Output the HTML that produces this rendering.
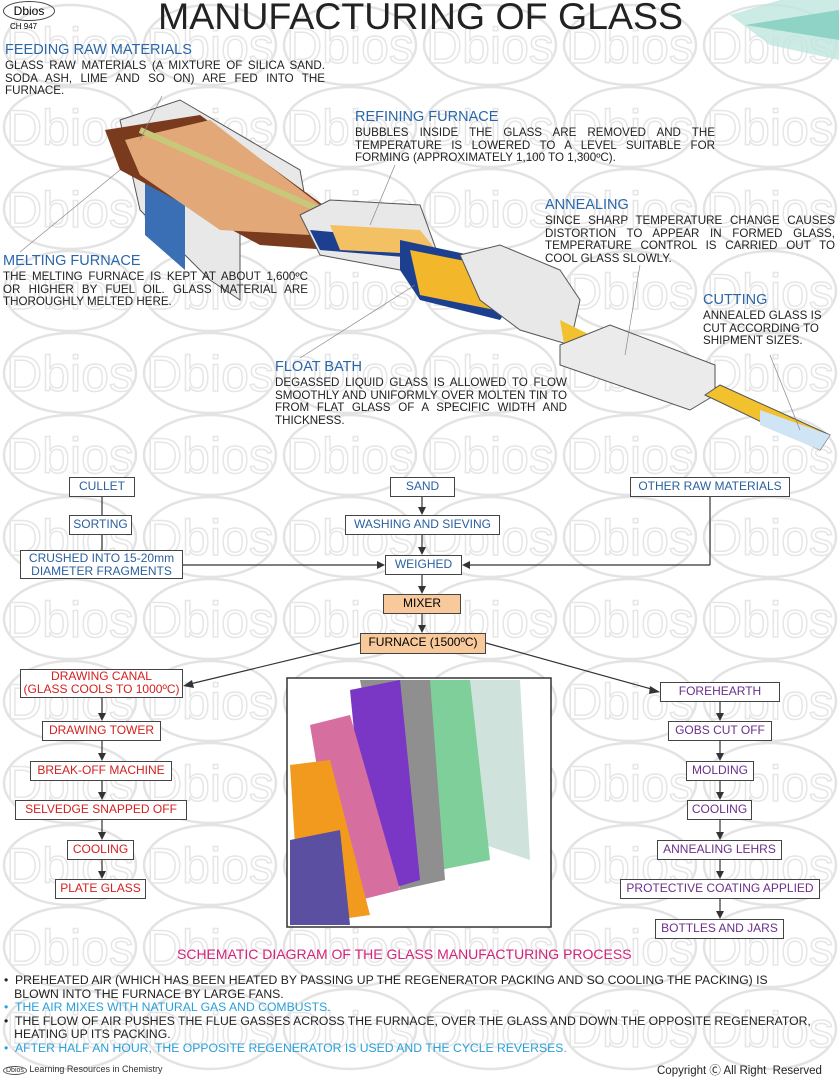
<!DOCTYPE html>
<html><head><meta charset="utf-8"><style>
body{margin:0;width:839px;height:1079px;position:relative;background:#fff;font-family:"Liberation Sans",sans-serif;overflow:hidden}
.a{position:absolute}
.h{color:#2a66a8;font-size:14.5px}
.t{font-size:11.6px;color:#222;text-align:justify;line-height:12.5px}
.b{position:absolute;border:1.5px solid #444;background:#fff;font-size:12px;text-align:center;box-sizing:border-box;line-height:17px;white-space:nowrap}
.bl{color:#2a5f9e}.rd{color:#d42020}.pu{color:#6a2f8a}
.or{background:#f8c99a}
</style></head><body>
<svg class="a" style="left:0;top:0" width="839" height="1079" id="w2"></svg>
<script>
var s='';
for(var r=0;r<13;r++){var y=45+r*82;for(var c=0;c<7;c++){var x=70+c*140;
s+='<ellipse cx="'+x+'" cy="'+y+'" rx="66" ry="40" fill="none" stroke="#e3e3e3" stroke-width="2.5"/>';
s+='<text x="'+x+'" y="'+(y+18)+'" text-anchor="middle" font-family="Liberation Sans" font-size="50" fill="none" stroke="#e6e6e6" stroke-width="1.5">Dbios</text>';}}
document.getElementById('w2').innerHTML=s;
</script>
<svg class="a" style="left:0;top:0" width="839" height="1079">
<polygon points="730,15 780,0 839,0 839,60 770,45" fill="#bfe6df" opacity=".8"/>
<polygon points="745,25 839,10 839,40" fill="#8fd3c7"/>
<!-- melting furnace -->
<polygon points="120,120 180,100 300,170 310,225 240,210 240,300 210,280 140,210" fill="#e8e8e8" stroke="#555"/>
<polygon points="145,170 185,190 185,270 145,235" fill="#3a6fb5"/>
<polygon points="105,130 200,115 330,210 330,250 260,245 120,170" fill="#7a3a1e"/>
<polygon points="125,140 210,120 320,205 310,235 220,230 140,175" fill="#e2a877"/>
<line x1="140" y1="130" x2="320" y2="210" stroke="#c8c87a" stroke-width="6"/>
<polygon points="300,215 330,200 420,205 440,260 400,270 320,255" fill="#e8e8e8" stroke="#555"/>
<polygon points="310,230 420,240 440,260 320,250" fill="#1c3f8f"/>
<polygon points="330,225 420,230 440,255 340,250" fill="#f3c063"/>
<polygon points="400,240 470,255 520,290 500,320 420,300 400,270" fill="#1c3f8f"/>
<polygon points="410,250 470,262 515,290 495,310 420,295" fill="#f2b72a"/>
<polygon points="460,255 500,245 560,270 580,300 570,345 520,330 480,300" fill="#e8e8e8" stroke="#555"/>
<polygon points="560,320 620,350 620,380 565,350" fill="#f2c12e"/>
<polygon points="560,345 610,325 715,365 715,395 690,410 560,365" fill="#ebebeb" stroke="#555"/>
<polygon points="705,395 720,385 830,435 820,450" fill="#f2c12e" stroke="#555"/>
<polygon points="760,410 830,435 820,450 760,425" fill="#cfe4f5"/>
<g stroke="#888" stroke-width=".7" fill="none">
<line x1="162" y1="96" x2="140" y2="140"/><line x1="20" y1="252" x2="120" y2="170"/>
<line x1="395" y1="165" x2="370" y2="225"/><line x1="300" y1="358" x2="415" y2="285"/>
<line x1="640" y1="265" x2="625" y2="355"/><line x1="770" y1="355" x2="800" y2="430"/>
</g>
<g stroke="#333" stroke-width="1.2" fill="none">
<line x1="102" y1="497" x2="102" y2="515"/><line x1="102" y1="535" x2="102" y2="550"/>
<line x1="183" y1="565" x2="380" y2="565"/>
<line x1="422" y1="497" x2="422" y2="510"/><line x1="422" y1="535" x2="422" y2="550"/>
<line x1="710" y1="497" x2="710" y2="565"/><line x1="710" y1="565" x2="467" y2="565"/>
<line x1="422" y1="575" x2="422" y2="589"/><line x1="422" y1="614" x2="422" y2="628"/>
<line x1="360" y1="643" x2="190" y2="684"/><line x1="486" y1="643" x2="655" y2="690"/>
<line x1="102" y1="697" x2="102" y2="716"/><line x1="102" y1="741" x2="102" y2="756"/><line x1="102" y1="781" x2="102" y2="795"/><line x1="102" y1="820" x2="102" y2="835"/><line x1="102" y1="860" x2="102" y2="874"/>
<line x1="720" y1="702" x2="720" y2="716"/><line x1="720" y1="741" x2="720" y2="756"/><line x1="720" y1="781" x2="720" y2="795"/><line x1="720" y1="820" x2="720" y2="835"/><line x1="720" y1="860" x2="720" y2="874"/><line x1="720" y1="899" x2="720" y2="914"/>
</g>
<g fill="#333">
<polygon points="385,565 377,561 377,569"/><polygon points="462,565 470,561 470,569"/>
<polygon points="422,515 418,507 426,507"/><polygon points="422,555 418,547 426,547"/><polygon points="422,594 418,586 426,586"/><polygon points="422,633 418,625 426,625"/>
<polygon points="183,686 192,680 194,688"/><polygon points="660,692 650,686 649,694"/>
<polygon points="102,721 98,713 106,713"/><polygon points="102,761 98,753 106,753"/><polygon points="102,800 98,792 106,792"/><polygon points="102,840 98,832 106,832"/><polygon points="102,879 98,871 106,871"/>
<polygon points="720,721 716,713 724,713"/><polygon points="720,761 716,753 724,753"/><polygon points="720,800 716,792 724,792"/><polygon points="720,840 716,832 724,832"/><polygon points="720,879 716,871 724,871"/><polygon points="720,919 716,911 724,911"/>
</g>
<rect x="287" y="678" width="264" height="249" fill="#fff" stroke="#333" stroke-width="1.5"/>
<polygon points="455,680 520,680 530,860 470,840" fill="#cfe3dc"/>
<polygon points="420,680 470,680 490,860 440,870" fill="#7fcf9a"/>
<polygon points="360,680 430,680 445,880 400,890" fill="#8f8f8f"/>
<polygon points="350,690 400,680 420,880 370,895" fill="#7a36c4"/>
<polygon points="310,725 350,715 400,890 340,905" fill="#d66ea0"/>
<polygon points="290,765 330,760 370,915 300,925" fill="#f19a1d"/>
<polygon points="290,840 340,830 350,925 290,925" fill="#5a4fa0"/>
</svg>

<div class="a" style="left:3px;top:1px;width:50px;height:18px;border:1.5px solid #444;border-radius:50%;font-size:12px;text-align:center;line-height:18px">Dbios</div>
<div class="a" style="left:10px;top:22px;font-size:8px">CH 947</div>
<div class="a" style="left:158px;top:-5px;font-size:37.5px;color:#222">MANUFACTURING OF GLASS</div>

<div class="a h" style="left:5px;top:42px">FEEDING RAW MATERIALS</div>
<div class="a t" style="left:5px;top:60px;width:320px">GLASS RAW MATERIALS (A MIXTURE OF SILICA SAND. SODA ASH, LIME AND SO ON) ARE FED INTO THE FURNACE.</div>
<div class="a h" style="left:355px;top:109px">REFINING FURNACE</div>
<div class="a t" style="left:355px;top:127px;width:360px">BUBBLES INSIDE THE GLASS ARE REMOVED AND THE TEMPERATURE IS LOWERED TO A LEVEL SUITABLE FOR FORMING (APPROXIMATELY 1,100 TO 1,300ºC).</div>
<div class="a h" style="left:545px;top:197px">ANNEALING</div>
<div class="a t" style="left:545px;top:215px;width:290px">SINCE SHARP TEMPERATURE CHANGE CAUSES DISTORTION TO APPEAR IN FORMED GLASS, TEMPERATURE CONTROL IS CARRIED OUT TO COOL GLASS SLOWLY.</div>
<div class="a h" style="left:3px;top:253px">MELTING FURNACE</div>
<div class="a t" style="left:3px;top:271px;width:305px">THE MELTING FURNACE IS KEPT AT ABOUT 1,600ºC OR HIGHER BY FUEL OIL. GLASS MATERIAL ARE THOROUGHLY MELTED HERE.</div>
<div class="a h" style="left:703px;top:292px">CUTTING</div>
<div class="a t" style="left:703px;top:310px;width:132px;text-align:left">ANNEALED GLASS IS CUT ACCORDING TO SHIPMENT SIZES.</div>
<div class="a h" style="left:275px;top:359px">FLOAT BATH</div>
<div class="a t" style="left:275px;top:377px;width:292px">DEGASSED LIQUID GLASS IS ALLOWED TO FLOW SMOOTHLY AND UNIFORMLY OVER MOLTEN TIN TO FROM FLAT GLASS OF A SPECIFIC WIDTH AND THICKNESS.</div>

<div class="b bl" style="left:69px;top:477px;width:66px;height:20px">CULLET</div>
<div class="b bl" style="left:69px;top:515px;width:63px;height:20px">SORTING</div>
<div class="b bl" style="left:20px;top:550px;width:163px;height:29px;line-height:12.5px;padding-top:1px">CRUSHED INTO 15-20mm<br>DIAMETER FRAGMENTS</div>
<div class="b bl" style="left:390px;top:477px;width:65px;height:20px">SAND</div>
<div class="b bl" style="left:345px;top:515px;width:155px;height:20px">WASHING AND SIEVING</div>
<div class="b bl" style="left:385px;top:555px;width:77px;height:20px">WEIGHED</div>
<div class="b bl" style="left:630px;top:477px;width:160px;height:20px">OTHER RAW MATERIALS</div>
<div class="b or" style="left:383px;top:594px;width:78px;height:20px">MIXER</div>
<div class="b or" style="left:360px;top:633px;width:126px;height:21px">FURNACE (1500ºC)</div>

<div class="b rd" style="left:20px;top:669px;width:163px;height:29px;line-height:13px;padding-top:0">DRAWING CANAL<br>(GLASS COOLS TO 1000ºC)</div>
<div class="b rd" style="left:42px;top:721px;width:119px;height:20px">DRAWING TOWER</div>
<div class="b rd" style="left:30px;top:761px;width:142px;height:20px">BREAK-OFF MACHINE</div>
<div class="b rd" style="left:15px;top:800px;width:172px;height:20px">SELVEDGE SNAPPED OFF</div>
<div class="b rd" style="left:67px;top:840px;width:67px;height:20px">COOLING</div>
<div class="b rd" style="left:55px;top:879px;width:91px;height:20px">PLATE GLASS</div>

<div class="b pu" style="left:660px;top:682px;width:120px;height:20px">FOREHEARTH</div>
<div class="b pu" style="left:668px;top:721px;width:104px;height:20px">GOBS CUT OFF</div>
<div class="b pu" style="left:686px;top:761px;width:68px;height:20px">MOLDING</div>
<div class="b pu" style="left:687px;top:800px;width:65px;height:20px">COOLING</div>
<div class="b pu" style="left:657px;top:840px;width:125px;height:20px">ANNEALING LEHRS</div>
<div class="b pu" style="left:620px;top:879px;width:200px;height:20px">PROTECTIVE COATING APPLIED</div>
<div class="b pu" style="left:655px;top:919px;width:129px;height:20px">BOTTLES AND JARS</div>

<div class="a" style="left:177px;top:946px;font-size:14px;color:#d4237a">SCHEMATIC DIAGRAM OF THE GLASS MANUFACTURING PROCESS</div>
<div class="a" style="left:4px;top:974px;width:835px;font-size:12.2px;line-height:13.5px;color:#222;white-space:nowrap">
<div>• &nbsp;PREHEATED AIR (WHICH HAS BEEN HEATED BY PASSING UP THE REGENERATOR PACKING AND SO COOLING THE PACKING) IS<br>&nbsp;&nbsp;&nbsp;BLOWN INTO THE FURNACE BY LARGE FANS.</div>
<div style="color:#2aa0d8">• &nbsp;THE AIR MIXES WITH NATURAL GAS AND COMBUSTS.</div>
<div>• &nbsp;THE FLOW OF AIR PUSHES THE FLUE GASSES ACROSS THE FURNACE, OVER THE GLASS AND DOWN THE OPPOSITE REGENERATOR,<br>&nbsp;&nbsp;&nbsp;HEATING UP ITS PACKING.</div>
<div style="color:#2aa0d8">• &nbsp;AFTER HALF AN HOUR, THE OPPOSITE REGENERATOR IS USED AND THE CYCLE REVERSES.</div>
</div>
<div class="a" style="left:3px;top:1064px;font-size:9px;color:#333"><span style="border:1px solid #555;border-radius:50%;font-size:7px;padding:0 2px">Dbios</span> Learning Resources in Chemistry</div>
<div class="a" style="left:657px;top:1062px;font-size:11.5px;color:#222">Copyright Ⓒ All Right &nbsp;Reserved</div>
</body></html>
